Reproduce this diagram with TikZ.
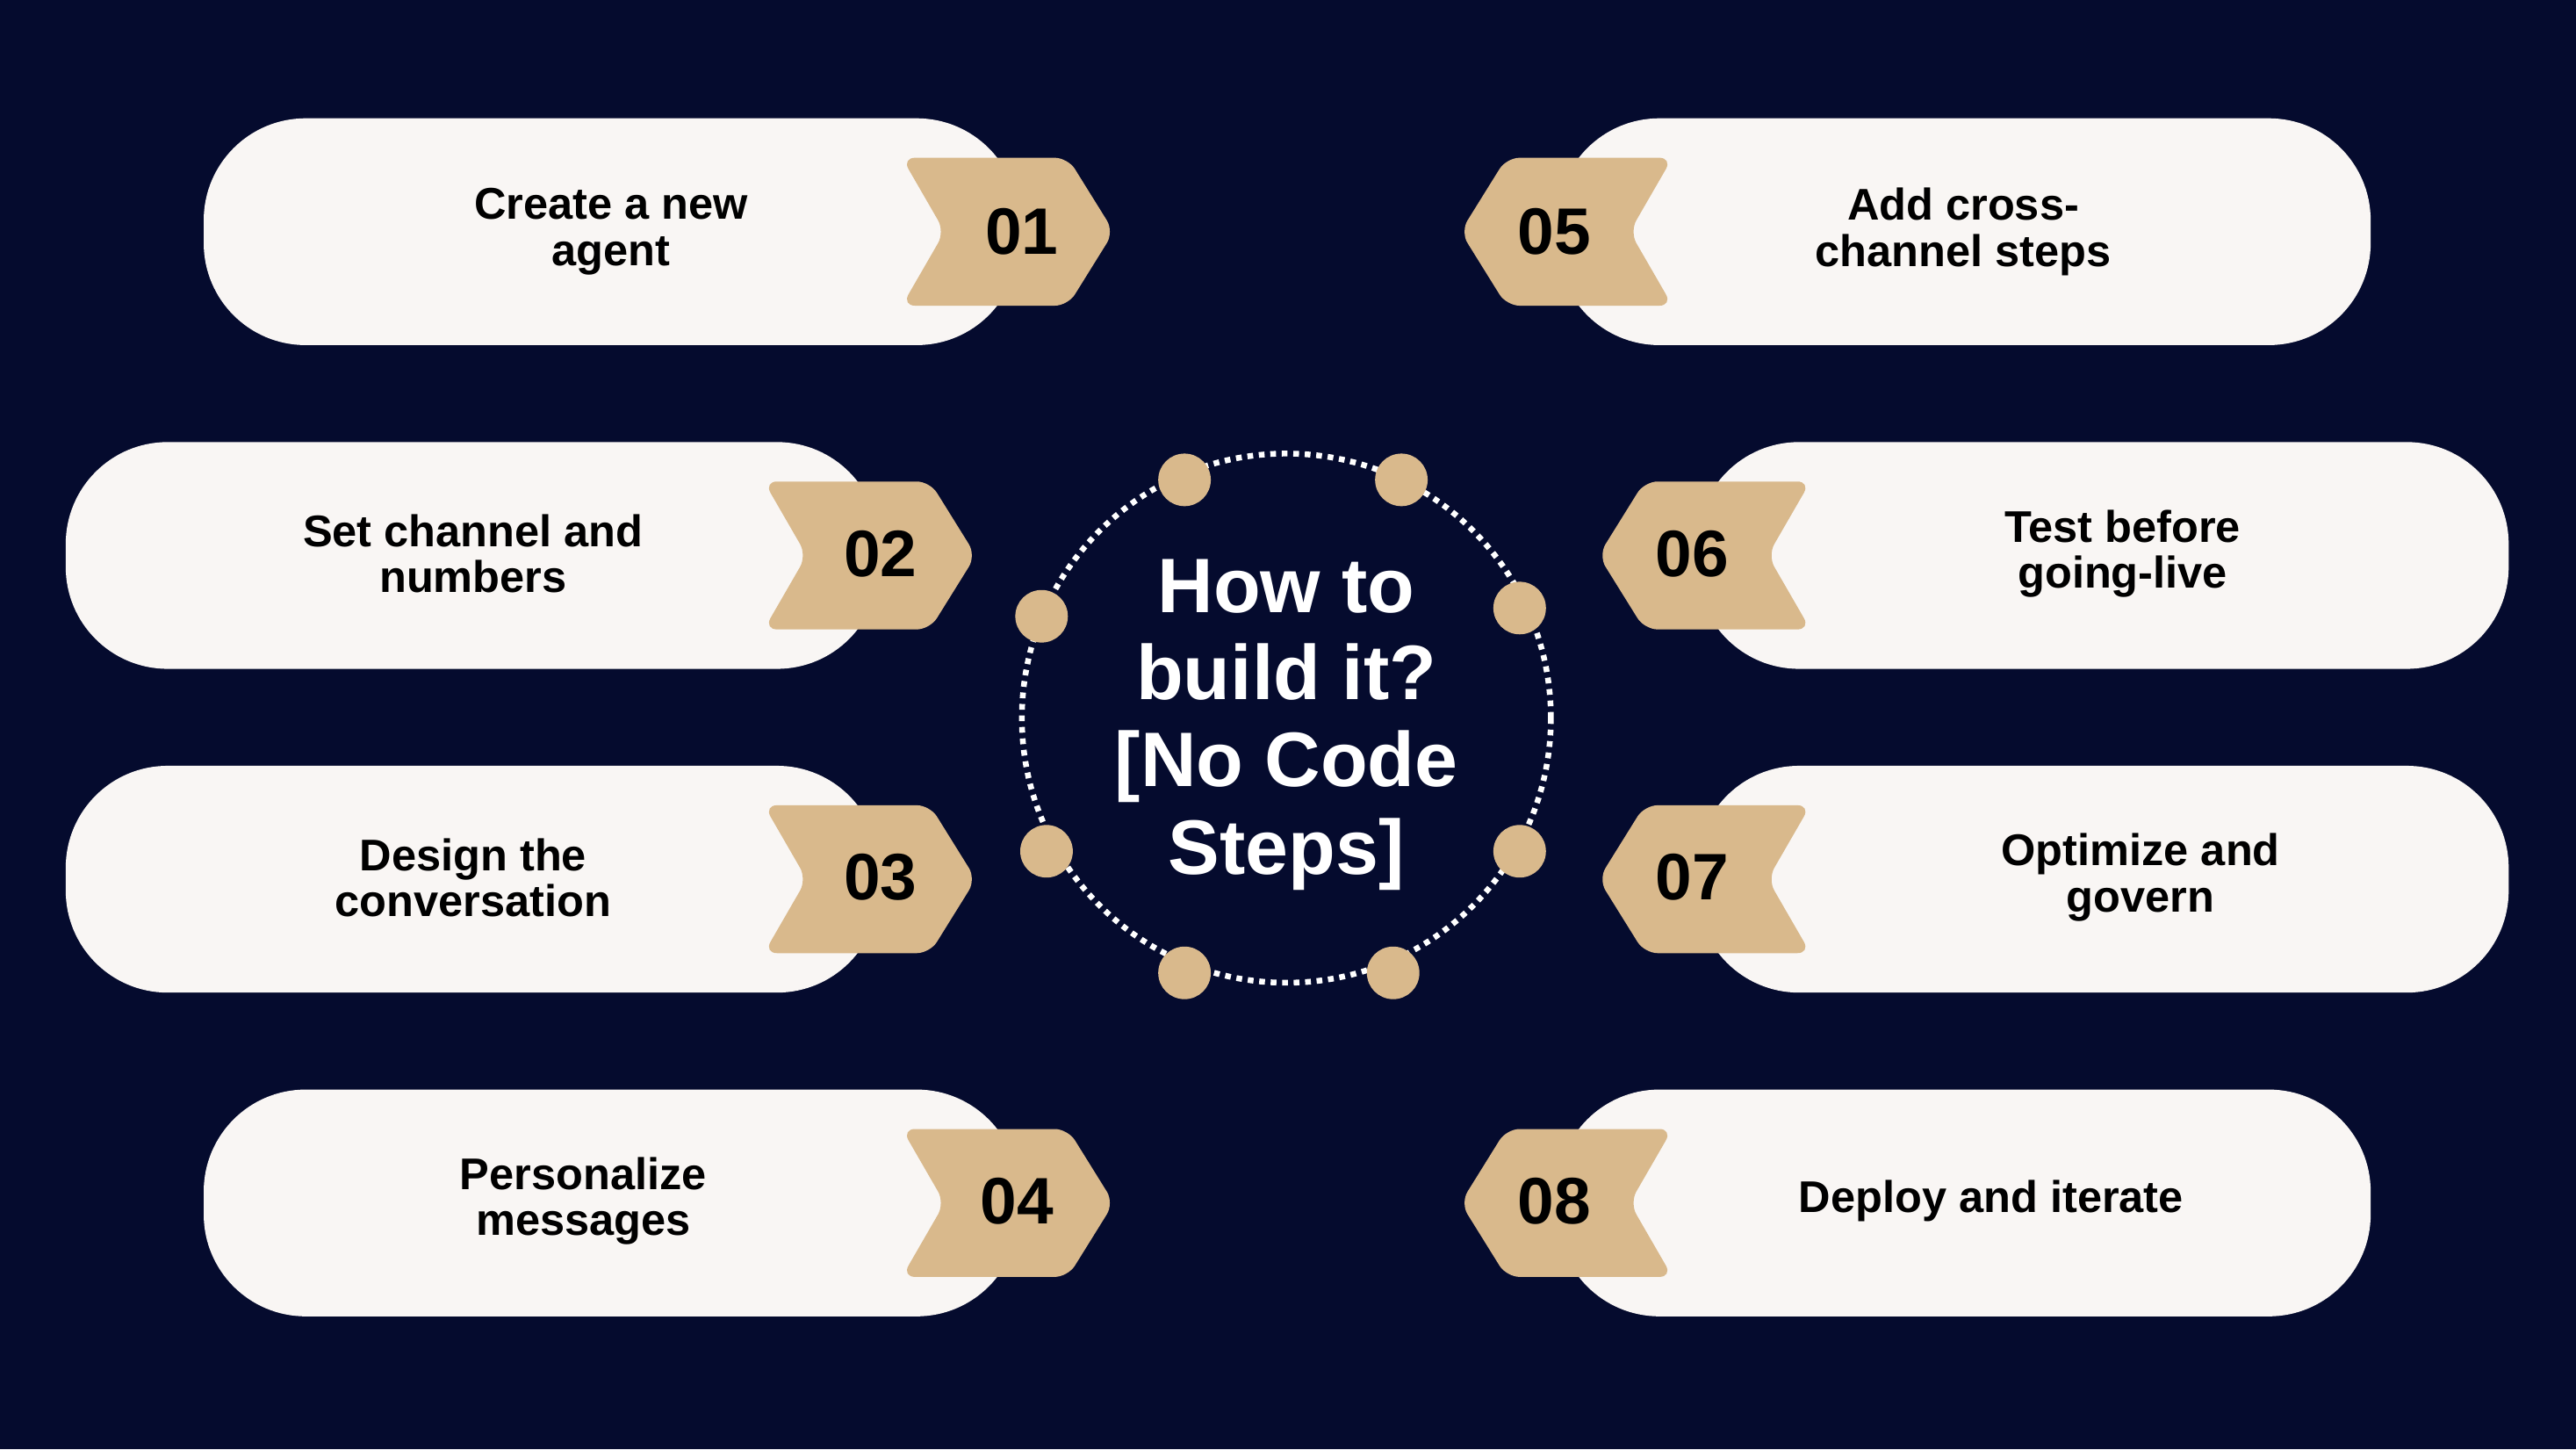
\documentclass[tikz,border=0pt]{standalone}
\usepackage{fontspec}
\setmainfont{Liberation Sans}
\definecolor{bgc}{HTML}{050B2E}
\definecolor{boxc}{HTML}{F9F6F4}
\definecolor{tagc}{HTML}{D9B98C}
\begin{document}
\begin{tikzpicture}[x=1pt,y=-1pt,
  pill/.style={fill=boxc,rounded corners=62pt},
  tagshape/.style={fill=tagc,rounded corners=8pt},
  lbl/.style={align=center,font=\fontsize{27}{28}\selectfont\bfseries,text=black},
  num/.style={font=\fontsize{40}{40}\selectfont\bfseries,text=black},
  dotc/.style={circle,fill=tagc,minimum size=32pt,inner sep=0pt}]
\fill[bgc] (0,0) rectangle (1568,882);
\useasboundingbox (0,0) rectangle (1568,882);
% pills
\foreach \xa/\xb/\ya in {124/620/72, 40/535/269, 40/535/466, 124/620/663, 948/1443/72, 1033/1527/269, 1033/1527/466, 948/1443/663}
  \fill[pill] (\xa,\ya) rectangle (\xb,\ya+138);
% left tags
\foreach \xo/\yo in {549/96, 465/293, 465/490, 549/687}
  \fill[tagshape] (\xo+26,\yo+45) -- (\xo,\yo) -- (\xo+101,\yo) -- (\xo+129,\yo+45) -- (\xo+101,\yo+90) -- (\xo,\yo+90) -- cycle;
% right tags
\foreach \xo/\yo in {1018/96, 1102/293, 1102/490, 1018/687}
  \fill[tagshape] (\xo-26,\yo+45) -- (\xo,\yo) -- (\xo-101,\yo) -- (\xo-129,\yo+45) -- (\xo-101,\yo+90) -- (\xo,\yo+90) -- cycle;
\node[lbl] (l1) at (372,141) {Create a new\\agent};
\node[lbl] (l2) at (288,337) {Set channel and\\numbers};
\node[lbl] (l3) at (288,534) {Design the\\conversation};
\node[lbl] (l4) at (355,731) {Personalize\\messages};
\node[lbl] (l5) at (1195,141) {Add cross-\\channel steps};
\node[lbl] (l6) at (1292,337) {Test before\\going-live};
\node[lbl] (l7) at (1303,534) {Optimize and\\govern};
\node[lbl] (l8) at (1212,731) {Deploy and iterate};
\node[num] (n1) at (622,141) {01};
\node[num] (n2) at (536,337) {02};
\node[num] (n3) at (536,534) {03};
\node[num] (n4) at (619,731) {04};
\node[num] (n5) at (946,141) {05};
\node[num] (n6) at (1030,337) {06};
\node[num] (n7) at (1030,534) {07};
\node[num] (n8) at (946,731) {08};
% center ring
\coordinate (c) at (783,437);
\draw[white,line width=3.5pt,dash pattern=on 3.5pt off 3.5pt] (c) circle (161);
\foreach \px/\py [count=\i] in {721/292, 853/292, 925/370, 925/518, 848/592, 721/592, 637/518, 634/375}
  \node[dotc] (d\i) at (\px,\py) {};
\node[align=center,text=white,font=\fontsize{47}{53}\selectfont\bfseries] (title) at (783,441) {How to\\build it?\\{[}No Code\\Steps{]}};
\end{tikzpicture}
\end{document}
